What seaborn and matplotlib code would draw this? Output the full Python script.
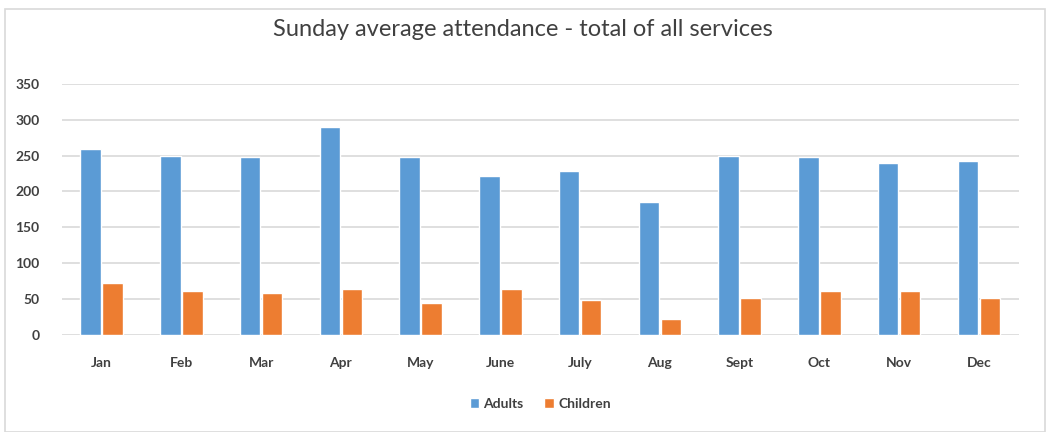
import pandas as pd
import seaborn as sns
import matplotlib.pyplot as plt
from matplotlib.patches import Rectangle

months = ['Jan', 'Feb', 'Mar', 'Apr', 'May', 'June', 'July', 'Aug', 'Sept', 'Oct', 'Nov', 'Dec']
adults = [259, 250, 248, 290, 248, 222, 228, 185, 250, 248, 239, 242]
children = [72, 61, 58, 64, 44, 64, 49, 23, 52, 61, 61, 52]
series = ['Adults', 'Children']
colors = ['#5B9BD5', '#ED7D31']

df = pd.DataFrame({'month': months * 2,
                   'value': adults + children,
                   'series': [series[0]] * len(months) + [series[1]] * len(months)})

sns.set_style('white')
plt.rcParams['font.family'] = ['Lato', 'DejaVu Sans']

fig = plt.figure(figsize=(10.46, 4.32), dpi=100)
ax = fig.add_axes([0.059, 0.2245, 0.915, 0.5815])

sns.barplot(data=df, x='month', y='value', hue='series', palette=colors,
            width=0.55, gap=0.07, saturation=1, ax=ax, legend=True)

ax.set_ylim(0, 350)
ax.set_yticks(range(0, 351, 50))
ax.yaxis.grid(True, color='#D9D9D9', linewidth=1.2)
ax.set_axisbelow(True)
for s in ax.spines.values():
    s.set_visible(False)
ax.tick_params(axis='both', length=0, colors='#404040', labelsize=10)
ax.tick_params(axis='y', pad=16)
ax.tick_params(axis='x', pad=16)
for lbl in ax.get_xticklabels() + ax.get_yticklabels():
    lbl.set_fontweight('bold')
ax.set_xlabel('')
ax.set_ylabel('')

ax.legend(loc='center', bbox_to_anchor=(0.5, -0.275), ncol=2, frameon=False,
          handlelength=0.7, handleheight=0.7, handletextpad=0.3, columnspacing=1.5,
          prop={'size': 10, 'weight': 'bold'}, labelcolor='#404040')

fig.suptitle('Sunday average attendance - total of all services', y=0.955,
             fontsize=17, color='#404040')

fig.patches.append(Rectangle((0.005, 0.0), 0.994, 0.98, transform=fig.transFigure,
                             fill=False, edgecolor='#D9D9D9', linewidth=1.2))

fig.savefig('out.png', dpi=100)
